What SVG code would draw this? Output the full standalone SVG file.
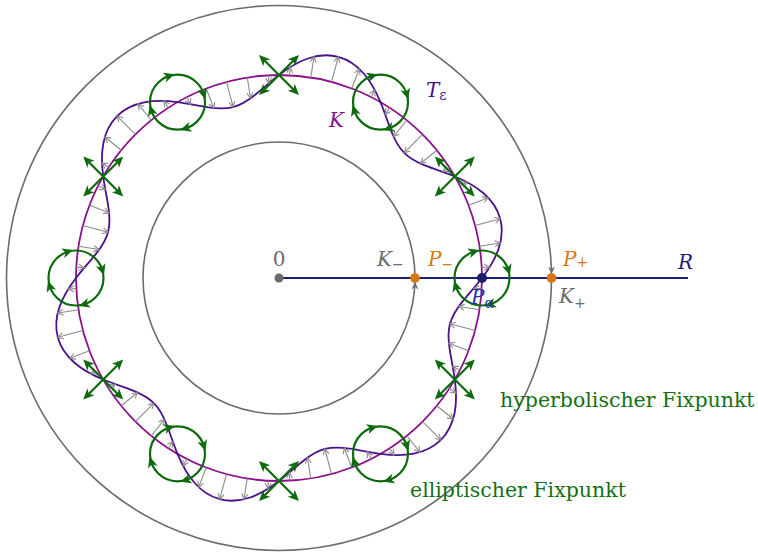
<svg xmlns="http://www.w3.org/2000/svg" xmlns:xlink="http://www.w3.org/1999/xlink" width="758" height="552" viewBox="0 0 758 552">
<style>
.ring{fill:none;stroke:#6b6b6b;stroke-width:1.6}
.kc{fill:none;stroke:#8b0f8b;stroke-width:1.8}
.tc{fill:none;stroke:#4b128c;stroke-width:1.8;stroke-linecap:round}
.ga{stroke:#8a8a8a;stroke-width:1.1;fill:none}
.gr{fill:none;stroke:#0d6b0d;stroke-width:2.2}
.gf{fill:#0d6b0d;stroke:none}
.lab{font-family:"DejaVu Serif",serif;font-style:italic;font-size:20px}
.sub{font-size:14px;font-style:normal}
.txt{font-family:"DejaVu Serif",serif;font-size:20.5px;fill:#137013}
</style>
<defs>
<marker id="gah" viewBox="-7 -4 8 8" markerWidth="8" markerHeight="8" refX="0" refY="0" orient="auto" markerUnits="userSpaceOnUse" overflow="visible">
<path d="M-5.5,-3 L0,0 L-5.5,3" fill="none" stroke="#8a8a8a" stroke-width="1.1"/>
</marker>
<path id="gh" d="M5.5,0 L-5.5,-5 L-2.5,0 L-5.5,5 Z"/>
<path id="tP" d="M203,0 C209.81,8.86 215.98,18.69 219.49,28.9 C223,39.1 223.78,49.62 221.2,59.27 C218.61,68.92 212.68,77.64 204.53,84.72 C196.39,91.8 186.13,97.23 175.8,101.5 C165.48,105.77 155.19,108.93 146.47,112.39 C137.74,115.85 130.62,119.7 125.16,125.16 C119.7,130.62 115.85,137.74 112.39,146.47 C108.93,155.19 105.77,165.48 101.5,175.8"/>
<g id="arrP" marker-end="url(#gah)">
<line x1="203" y1="0" x2="211" y2="0" transform="rotate(3)"/>
<line x1="203" y1="0" x2="224" y2="0" transform="rotate(9)"/>
<line x1="203" y1="0" x2="229" y2="0" transform="rotate(15)"/>
<line x1="203" y1="0" x2="224" y2="0" transform="rotate(21)"/>
<line x1="203" y1="0" x2="211" y2="0" transform="rotate(27)"/>
<line x1="203" y1="0" x2="195" y2="0" transform="rotate(33)"/>
<line x1="203" y1="0" x2="182" y2="0" transform="rotate(39)"/>
<line x1="203" y1="0" x2="177" y2="0" transform="rotate(45)"/>
<line x1="203" y1="0" x2="182" y2="0" transform="rotate(51)"/>
<line x1="203" y1="0" x2="195" y2="0" transform="rotate(57)"/>
</g>
<g id="ellG">
<circle r="27.5" class="gr"/>
<use href="#gh" class="gf" transform="rotate(-17) translate(27.5,0) rotate(90)"/>
<use href="#gh" class="gf" transform="rotate(-107) translate(27.5,0) rotate(90)"/>
<use href="#gh" class="gf" transform="rotate(163) translate(27.5,0) rotate(90)"/>
<use href="#gh" class="gf" transform="rotate(73) translate(27.5,0) rotate(90)"/>
</g>
<g id="hypG">
<path class="gr" d="M-16,-16 L16,16 M16,-16 L-16,16"/>
<use href="#gh" class="gf" transform="rotate(45) translate(22.8,0)"/>
<use href="#gh" class="gf" transform="rotate(135) translate(22.8,0)"/>
<use href="#gh" class="gf" transform="rotate(-45) translate(22.8,0)"/>
<use href="#gh" class="gf" transform="rotate(-135) translate(22.8,0)"/>
</g>
</defs>

<g id="rings">
<circle class="ring" cx="279" cy="278" r="272.5"/>
<circle class="ring" cx="279" cy="278" r="136"/>
<path d="M415,282 L411.5,289.5 L415,287 L418.5,289.5 Z" fill="#6b6b6b"/>
<path d="M551.5,274 L548,266.5 L551.5,269 L555,266.5 Z" fill="#6b6b6b"/>
</g>

<g id="ray-R">
<line x1="279" y1="278" x2="688" y2="278" stroke="#1e1e78" stroke-width="2"/>
</g>

<g id="curve-K">
<circle class="kc" cx="279" cy="278" r="203"/>
</g>

<g id="curve-T" class="tc" transform="translate(279,278) scale(1,-1)">
<use href="#tP"/>
<use href="#tP" transform="rotate(60)"/>
<use href="#tP" transform="rotate(120)"/>
<use href="#tP" transform="rotate(180)"/>
<use href="#tP" transform="rotate(240)"/>
<use href="#tP" transform="rotate(300)"/>
</g>

<g id="connectors" class="ga" transform="translate(279,278) scale(1,-1)">
<use href="#arrP"/>
<use href="#arrP" transform="rotate(60)"/>
<use href="#arrP" transform="rotate(120)"/>
<use href="#arrP" transform="rotate(180)"/>
<use href="#arrP" transform="rotate(240)"/>
<use href="#arrP" transform="rotate(300)"/>
</g>

<g id="ell-0"><use href="#ellG" transform="translate(482,278)"/></g>
<g id="ell-60"><use href="#ellG" transform="translate(380.5,102.2)"/></g>
<g id="ell-120"><use href="#ellG" transform="translate(177.5,102.2)"/></g>
<g id="ell-180"><use href="#ellG" transform="translate(76,278)"/></g>
<g id="ell-240"><use href="#ellG" transform="translate(177.5,453.8)"/></g>
<g id="ell-300"><use href="#ellG" transform="translate(380.5,453.8)"/></g>

<g id="hyp-30"><use href="#hypG" transform="translate(454.8,176.5)"/></g>
<g id="hyp-90"><use href="#hypG" transform="translate(279,75)"/></g>
<g id="hyp-150"><use href="#hypG" transform="translate(103.2,176.5)"/></g>
<g id="hyp-210"><use href="#hypG" transform="translate(103.2,379.5)"/></g>
<g id="hyp-270"><use href="#hypG" transform="translate(279,481)"/></g>
<g id="hyp-330"><use href="#hypG" transform="translate(454.8,379.5)"/></g>

<g id="origin">
<circle cx="279" cy="278" r="4.5" fill="#6b6b6b"/>
<text x="279" y="265.5" text-anchor="middle" font-family="DejaVu Serif, serif" font-size="20" fill="#6b6b6b">0</text>
</g>
<g id="P-minus">
<circle cx="415" cy="278" r="4.8" fill="#d4780f"/>
<text class="lab" x="428" y="265.5" fill="#d4780f">P<tspan class="sub" dy="3">−</tspan></text>
</g>
<g id="K-minus">
<text class="lab" x="377" y="265.5" fill="#6b6b6b">K<tspan class="sub" dy="3.5">−</tspan></text>
</g>
<g id="P-plus">
<circle cx="551.5" cy="278" r="4.8" fill="#d4780f"/>
<text class="lab" x="563" y="265.5" fill="#d4780f">P<tspan class="sub" dy="1">+</tspan></text>
</g>
<g id="K-plus">
<text class="lab" x="559" y="303" fill="#6b6b6b">K<tspan class="sub" dy="5">+</tspan></text>
</g>
<g id="P-alpha">
<circle cx="482" cy="278" r="5" fill="#1e1e6e"/>
<text class="lab" x="471" y="304" fill="#2233aa">P<tspan class="sub" font-style="italic" dy="4">α</tspan></text>
</g>
<g id="label-R">
<text class="lab" x="678" y="269" fill="#1e1e78">R</text>
</g>
<g id="label-T">
<text class="lab" x="426" y="97" fill="#4b128c">T<tspan class="sub" font-style="italic" dy="3">ε</tspan></text>
</g>
<g id="label-K">
<text class="lab" x="329" y="127" fill="#8b0f8b">K</text>
</g>
<text class="txt" x="500" y="406.5">hyperbolischer Fixpunkt</text>
<text class="txt" x="410" y="496.5">elliptischer Fixpunkt</text>
</svg>
